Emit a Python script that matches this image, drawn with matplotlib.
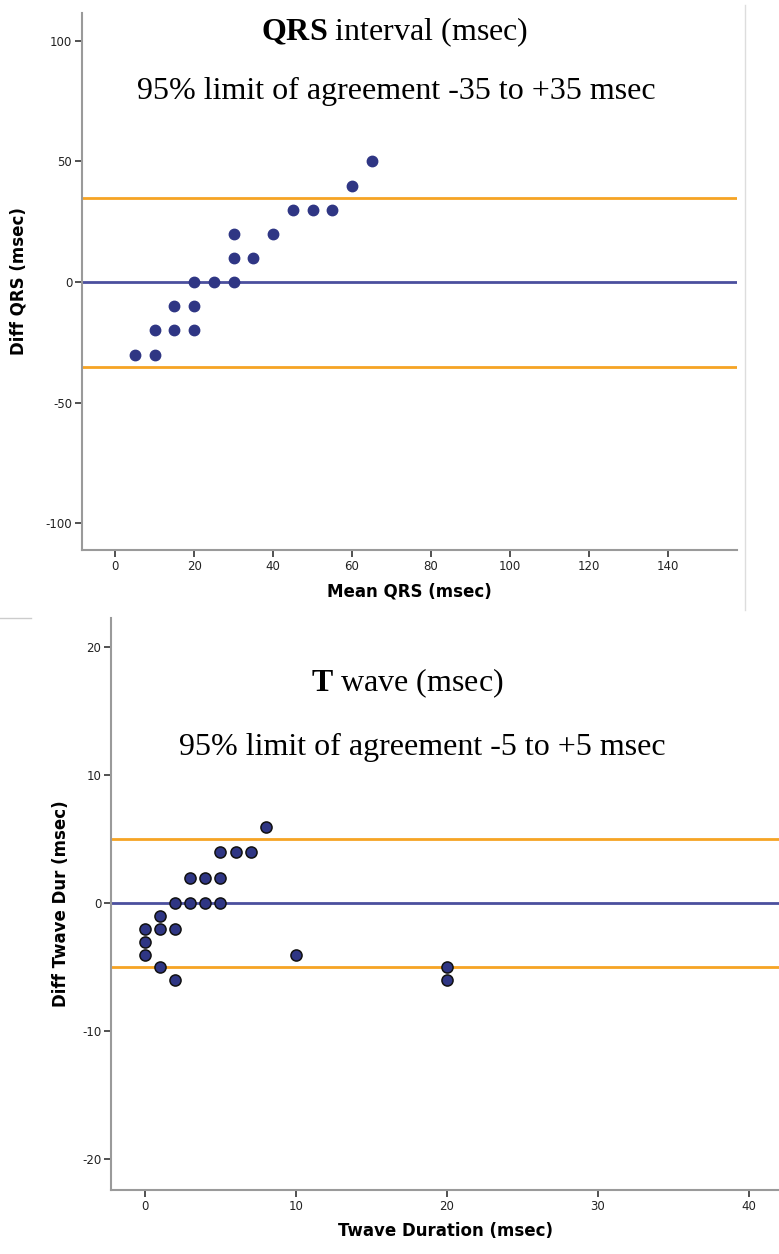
import matplotlib.pyplot as plt

plt.rcParams['axes.unicode_minus'] = False
plt.rcParams['mathtext.fontset'] = 'custom'
plt.rcParams['mathtext.rm'] = 'Liberation Serif'
plt.rcParams['mathtext.bf'] = 'Liberation Serif:bold'

# QRS panel data (mean vs diff)
qrs_mean = [5, 10, 10, 15, 15, 20, 20, 20, 25, 30, 30, 30, 35, 40, 45, 50, 55, 60, 65]
qrs_diff = [-30, -30, -20, -20, -10, -20, -10, 0, 0, 0, 10, 20, 10, 20, 30, 30, 30, 40, 50]
qrs_limits = [-35, 35]

# T wave panel data
tw_dur = [0, 0, 0, 1, 1, 1, 2, 2, 2, 3, 3, 4, 4, 5, 5, 5, 6, 7, 8, 10, 20, 20]
tw_diff = [-2, -3, -4, -1, -2, -5, 0, -2, -6, 2, 0, 2, 0, 4, 2, 0, 4, 4, 6, -4, -5, -6]
tw_limits = [-5, 5]

qrs_xticks = [0, 20, 40, 60, 80, 100, 120, 140]
qrs_yticks = [-100, -50, 0, 50, 100]
tw_xticks = [0, 10, 20, 30, 40]
tw_yticks = [-20, -10, 0, 10, 20]

navy = '#2f3684'
meanline = '#4b4f9e'
orange = '#f6a424'
spine = '#9a9a9a'

fig = plt.figure(figsize=(7.79, 12.54), dpi=100)
ax1 = fig.add_axes([82/779, 1-550/1254, (737-82)/779, (550-13)/1254])
ax2 = fig.add_axes([111/779, 1-1190/1254, (779-111)/779, (1190-618)/1254])


def style(ax):
    for s in ['top', 'right']:
        ax.spines[s].set_visible(False)
    for s in ['left', 'bottom']:
        ax.spines[s].set_color(spine)
        ax.spines[s].set_linewidth(1.5)
    ax.tick_params(length=5, width=1.2, color='#333333', labelsize=8.5,
                   labelcolor='#222222', pad=2)


# top panel
ax1.axhline(0, color=meanline, lw=2, zorder=1)
for v in qrs_limits:
    ax1.axhline(v, color=orange, lw=2, zorder=1)
ax1.plot(qrs_mean, qrs_diff, 'o', ms=7.5, color=navy, mec=navy, zorder=3)
ax1.set_xlim(-8.4, 157.5)
ax1.set_ylim(-111, 111.5)
ax1.set_xticks(qrs_xticks)
ax1.set_yticks(qrs_yticks)
style(ax1)
ax1.set_xlabel('Mean QRS (msec)', fontsize=12, fontweight='bold', labelpad=7)
ax1.set_ylabel('Diff QRS (msec)', fontsize=12, fontweight='bold', labelpad=13)
fig.text(395/779, 1-32/1254, r'$\mathbf{QRS}$ interval (msec)', ha='center', va='center',
         fontsize=23, family='Liberation Serif')
fig.text(396/779, 1-91/1254, '95% limit of agreement -35 to +35 msec', ha='center', va='center',
         fontsize=23, family='Liberation Serif')

# bottom panel
ax2.axhline(0, color=meanline, lw=2, zorder=1)
for v in tw_limits:
    ax2.axhline(v, color=orange, lw=2, zorder=1)
ax2.plot(tw_dur, tw_diff, 'o', ms=8, color=navy, mec='#111111', mew=1.1, zorder=3)
ax2.set_xlim(-2.25, 42.0)
ax2.set_ylim(-22.4, 22.3)
ax2.set_xticks(tw_xticks)
ax2.set_yticks(tw_yticks)
style(ax2)
ax2.set_xlabel('Twave Duration (msec)', fontsize=12, fontweight='bold', labelpad=7)
ax2.set_ylabel('Diff Twave Dur (msec)', fontsize=12, fontweight='bold', labelpad=9)
fig.text(407/779, 1-683/1254, r'$\mathbf{T}$ wave (msec)', ha='center', va='center',
         fontsize=23, family='Liberation Serif')
fig.text(422/779, 1-747/1254, '95% limit of agreement -5 to +5 msec', ha='center', va='center',
         fontsize=23, family='Liberation Serif')

# panel borders from the original screenshot
fig.add_artist(plt.Line2D([745/779, 745/779], [1-5/1254, 1-610/1254], color='#dddddd', lw=1))
fig.add_artist(plt.Line2D([0, 31/779], [1-618/1254, 1-618/1254], color='#cccccc', lw=1))

fig.savefig('out.png', dpi=100)
